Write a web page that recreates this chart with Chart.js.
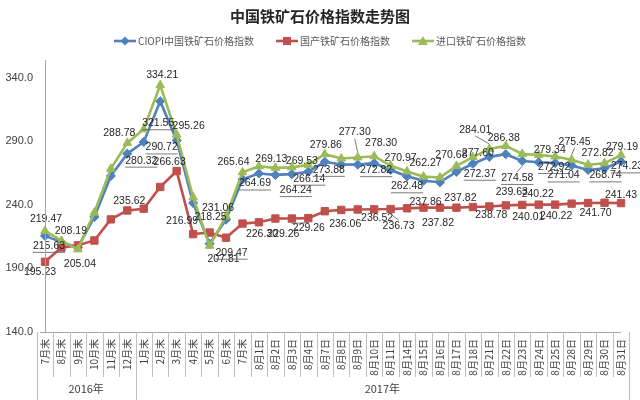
<!DOCTYPE html>
<html><head><meta charset="utf-8">
<script src="https://cdn.jsdelivr.net/npm/chart.js@4.4.0/dist/chart.umd.min.js"></script>
<style>
html,body{margin:0;padding:0;background:#fff;}
#wrap{position:relative;width:640px;height:400px;overflow:hidden;}
canvas{position:absolute;left:0;top:0;}
#title{position:absolute;left:0;top:6px;width:640px;text-align:center;font:bold 15px "Noto Sans CJK SC",sans-serif;color:#262626;line-height:20px;}
#legend{position:absolute;left:0;top:34px;width:640px;display:flex;justify-content:center;gap:22px;font:10px "Noto Sans CJK SC",sans-serif;color:#595959;line-height:14px;}
.item{display:flex;align-items:center;gap:2px;}
</style></head>
<body><div id="wrap"><canvas id="c" width="640" height="400"></canvas><div id="title">中国铁矿石价格指数走势图</div><div id="legend"></div></div>
<script>
const categories = ['7月末','8月末','9月末','10月末','11月末','12月末','1月末','2月末','3月末','4月末','5月末','6月末','7月末',
  '8月1日','8月2日','8月3日','8月4日','8月7日','8月8日','8月9日','8月10日','8月11日','8月14日','8月15日','8月16日','8月17日','8月18日',
  '8月21日','8月22日','8月23日','8月24日','8月25日','8月28日','8月29日','8月30日','8月31日'];
const yearLabels = ['2016年','2017年'];
const yearStarts = [0, 6];
const seriesNames = ['CIOPI中国铁矿石价格指数','国产铁矿石价格指数','进口铁矿石价格指数'];
const ciopi = [215.63,210.7,206.5,230.5,262.8,280.32,289.5,321.55,290.72,241.5,209.47,228.4,260.1,
  264.69,263.6,264.24,266.14,273.88,271.8,271.7,272.82,267.5,262.48,259.0,257.8,266.0,272.37,
  277.8,279.9,274.58,273.5,272.92,271.04,267.5,268.74,274.23];
const domestic = [195.23,206.4,208.19,212.0,228.6,235.62,237.0,254.1,266.63,216.99,218.25,214.2,225.3,
  226.30,229.26,229.26,229.6,235.0,236.06,236.4,236.52,236.73,237.3,237.86,237.82,237.82,238.3,
  238.78,239.63,240.01,240.22,240.22,241.0,241.5,241.70,241.43];
const imported = [219.47,211.8,205.04,234.0,268.4,288.78,299.5,334.21,295.26,246.0,207.81,231.06,265.64,
  270.3,269.13,269.53,271.5,279.86,276.5,277.30,278.30,270.97,266.3,262.27,261.6,270.68,277.60,
  284.01,286.38,280.1,279.34,278.1,275.45,271.6,272.82,279.19];
const yTicks = [140,190,240,290,340];

const colors = ['#4F81BD','#C0504D','#9BBB59'];
const pointStyles = ['rectRot','rect','triangle'];

// data label placement: [dataset, index, dx, dy, flags]  (u = underline, l = leader line)
const labelLayout = [
  [2,0,1,-12,''],[2,2,2,15,''],[2,5,-8,-10,''],[2,7,2,-10,''],[2,8,12,-9,''],[2,10,14,13,''],[2,11,-8,-8,''],
  [2,12,-9,-10,''],[2,14,-4,-9,''],[2,15,10,-6,''],[2,17,1,-9,''],[2,19,-3,-25,'l'],[2,20,7,-13,''],[2,21,10,-7,''],
  [2,23,2,-13,''],[2,25,-5,-11,''],[2,26,5,-4,''],[2,27,-14,-19,'l'],[2,28,-2,-8,''],[2,30,11,-5,''],[2,32,3,-18,'l'],
  [2,34,-7,-10,''],[2,35,1,-8,''],
  [0,0,4,10,'u'],[0,5,14,7,'u'],[0,7,-2,22,'u'],[0,8,-15,7,'u'],[0,10,22,9,'u'],[0,13,-4,10,'u'],[0,15,4,16,'u'],
  [0,16,1,7,'u'],[0,17,4,8,'u'],[0,20,2,7,'u'],[0,22,0,10,'u'],[0,26,7,10,'u'],[0,29,-5,17,'ul'],[0,31,-1,4,'u'],
  [0,32,-8,10,'u'],[0,34,1,7,'u'],[0,35,6,5,'u'],
  [1,0,-5,10,''],[1,2,-7,-14,''],[1,5,2,-9,''],[1,8,-7,-9,''],[1,9,-11,-13,''],[1,10,1,-15,''],[1,13,3,12,''],
  [1,14,8,16,''],[1,15,17,10,'l'],[1,18,4,14,''],[1,20,3,9,''],[1,21,8,17,'l'],[1,23,2,-6,''],[1,24,-2,15,''],
  [1,25,4,-10,''],[1,27,2,9,''],[1,28,6,-13,''],[1,29,6,12,''],[1,30,-1,-11,''],[1,31,1,11,''],[1,34,-9,10,''],[1,35,0,-8,'']
];

// legend
const legendEl = document.getElementById('legend');
const markerSvg = [
  c => `<polygon points="11,0.5 15.5,5 11,9.5 6.5,5" fill="${c}"/>`,
  c => `<rect x="7" y="1" width="8" height="8" fill="${c}"/>`,
  c => `<polygon points="11,0 16,9 6,9" fill="${c}"/>`
];
seriesNames.forEach((n, k) => {
  const d = document.createElement('div');
  d.className = 'item';
  d.innerHTML = `<svg width="22" height="10"><line x1="0" y1="5" x2="22" y2="5" stroke="${colors[k]}" stroke-width="2.6"/>${markerSvg[k](colors[k])}</svg><span>${n}</span>`;
  legendEl.appendChild(d);
});

const decor = {
  id: 'decor',
  afterDraw(chart) {
    const ctx = chart.ctx, xs = chart.scales.x, ys = chart.scales.y, ca = chart.chartArea;
    const n = categories.length;
    const step = xs.getPixelForValue(1) - xs.getPixelForValue(0);
    const yb = Math.round(ys.getPixelForValue(yTicks[0]));
    ctx.save();
    ctx.lineWidth = 1;
    ctx.strokeStyle = '#a6a6a6';
    ctx.beginPath();
    ctx.moveTo(Math.round(ca.left) + 0.5, ca.top);
    ctx.lineTo(Math.round(ca.left) + 0.5, yb);
    ctx.moveTo(ca.left - 5, yb + 0.5);
    ctx.lineTo(ca.right, yb + 0.5);
    ctx.stroke();
    ctx.strokeStyle = '#bfbfbf';
    ctx.beginPath();
    for (let k = 0; k <= n; k++) {
      const x = Math.round(xs.getPixelForValue(k) - step / 2) + 0.5;
      const long = yearStarts.includes(k) || k === n;
      ctx.moveTo(x, yb);
      ctx.lineTo(x, long ? 400 : yb + 45);
    }
    ctx.stroke();
    ctx.fillStyle = '#404040';
    ctx.font = '11px "Noto Sans CJK SC"';
    ctx.textAlign = 'center';
    ctx.textBaseline = 'middle';
    yearLabels.forEach((t, g) => {
      const a = yearStarts[g];
      const b = g + 1 < yearStarts.length ? yearStarts[g + 1] : n;
      const x = (xs.getPixelForValue(a) + xs.getPixelForValue(b - 1)) / 2;
      ctx.fillText(t, x, 389);
    });
    ctx.restore();
  },
  afterDatasetsDraw(chart) {
    const ctx = chart.ctx;
    ctx.save();
    ctx.font = '10.5px "Liberation Sans"';
    ctx.textAlign = 'center';
    ctx.textBaseline = 'middle';
    labelLayout.forEach(([ds, i, dx, dy, f]) => {
      const el = chart.getDatasetMeta(ds).data[i];
      const v = chart.data.datasets[ds].data[i];
      const t = v.toFixed(2);
      const x = el.x + dx, y = el.y + dy;
      ctx.fillStyle = '#262626';
      ctx.fillText(t, x, y);
      const w = ctx.measureText(t).width;
      ctx.strokeStyle = '#595959';
      ctx.lineWidth = 0.8;
      if (f.includes('u')) {
        ctx.beginPath();
        ctx.moveTo(x - w / 2, y + 6.5);
        ctx.lineTo(x + w / 2, y + 6.5);
        ctx.stroke();
      }
      if (f.includes('l')) {
        const sy = dy < 0 ? y + 6 : y - 6;
        const ey = dy < 0 ? el.y - 5 : el.y + 5;
        ctx.beginPath();
        ctx.moveTo(x, sy);
        ctx.lineTo(el.x, ey);
        ctx.stroke();
      }
    });
    ctx.restore();
  }
};

const makeSet = (k, data, order) => ({
  label: seriesNames[k], data,
  borderColor: colors[k], backgroundColor: colors[k],
  pointBackgroundColor: colors[k], pointBorderColor: colors[k],
  pointStyle: pointStyles[k], pointRadius: k === 1 ? 5.2 : (k === 2 ? 5 : 4.6), pointBorderWidth: 1,
  borderWidth: 2.6, tension: 0, order
});

new Chart(document.getElementById('c'), {
  type: 'line',
  data: {
    labels: categories,
    datasets: [makeSet(0, ciopi, 2), makeSet(1, domestic, 1), makeSet(2, imported, 0)]
  },
  options: {
    responsive: false, animation: false, devicePixelRatio: 1,
    layout: { padding: { top: 60, right: 19, left: 0, bottom: 0 } },
    plugins: { legend: { display: false }, title: { display: false }, tooltip: { enabled: false } },
    scales: {
      x: {
        grid: { display: false, drawTicks: false }, border: { display: false },
        ticks: { autoSkip: false, minRotation: 90, maxRotation: 90, padding: 7, color: '#404040',
          font: { family: '"Noto Sans CJK SC"', size: 10 } },
        afterFit(s) { s.height = 68; s.paddingLeft = 0; s.paddingRight = 0; }
      },
      y: {
        min: 140, max: 354,
        grid: { display: false, drawTicks: false }, border: { display: false },
        afterBuildTicks(s) { s.ticks = yTicks.map(v => ({ value: v })); },
        ticks: { padding: 12, color: '#404040', font: { family: '"Liberation Sans"', size: 11 },
          callback: v => Number(v).toFixed(1) },
        afterFit(s) { s.width = 45; s.paddingTop = 0; s.paddingBottom = 0; }
      }
    }
  },
  plugins: [decor]
});
</script>
</body></html>
